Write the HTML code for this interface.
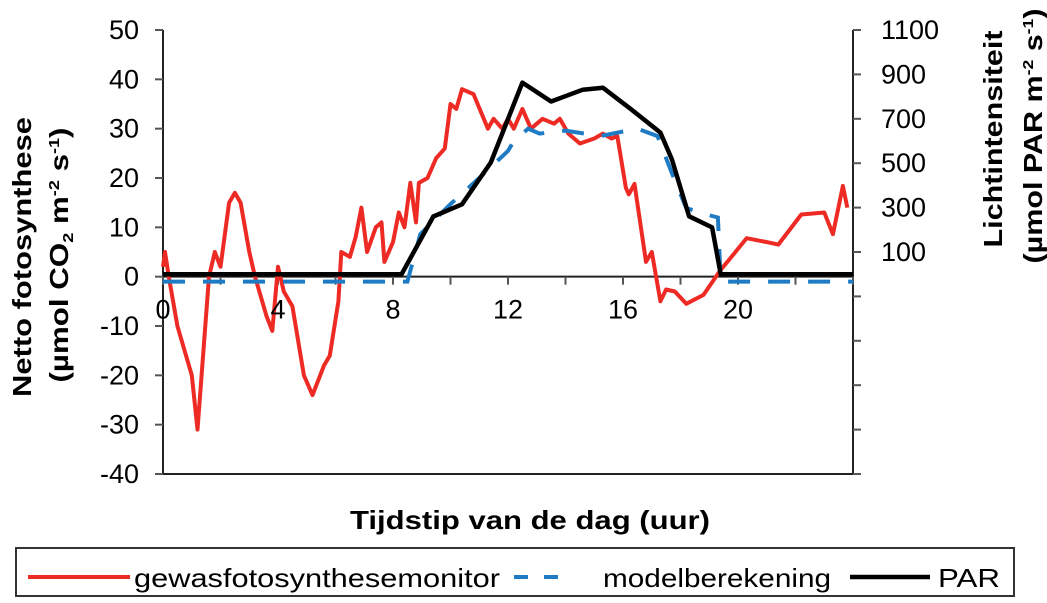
<!DOCTYPE html>
<html><head><meta charset="utf-8"><style>
html,body{margin:0;padding:0;background:#fff;}
svg{display:block;font-family:"Liberation Sans",Arial,sans-serif;}
</style></head><body>
<svg id="chart" width="1047" height="603" viewBox="0 0 1047 603" xmlns="http://www.w3.org/2000/svg">
<rect width="1047" height="603" fill="#fff"/>
<g id="grid"></g>
<g id="series"></g>
<g id="labels"></g>
<text transform="translate(31,257) rotate(-90)" text-anchor="middle" font-size="26" font-weight="bold" textLength="280" lengthAdjust="spacingAndGlyphs">Netto fotosynthese</text>
<text transform="translate(68,255) rotate(-90)" text-anchor="middle" font-size="26" font-weight="bold" textLength="255" lengthAdjust="spacingAndGlyphs">(µmol CO<tspan font-size="15" dy="5">2</tspan><tspan dy="-5"> m</tspan><tspan font-size="15" dy="-9">-2</tspan><tspan dy="9"> s</tspan><tspan font-size="15" dy="-9">-1</tspan><tspan dy="9">)</tspan></text>
<text transform="translate(1002,139) rotate(-90)" text-anchor="middle" font-size="26" font-weight="bold" textLength="217" lengthAdjust="spacingAndGlyphs">Lichtintensiteit</text>
<text transform="translate(1042,136) rotate(-90)" text-anchor="middle" font-size="26" font-weight="bold" textLength="255" lengthAdjust="spacingAndGlyphs">(µmol PAR m<tspan font-size="15" dy="-9">-2</tspan><tspan dy="9"> s</tspan><tspan font-size="15" dy="-9">-1</tspan><tspan dy="9">)</tspan></text>
<text x="350" y="529" font-size="26" font-weight="bold" textLength="360" lengthAdjust="spacingAndGlyphs">Tijdstip van de dag (uur)</text>
<g>
<rect x="16" y="548" width="998" height="48" fill="#fff" stroke="#333" stroke-width="2"/>
<line x1="28" y1="577" x2="130" y2="577" stroke="#ee2a24" stroke-width="4"/>
<text x="134" y="587" font-size="26" textLength="366" lengthAdjust="spacingAndGlyphs">gewasfotosynthesemonitor</text>
<line x1="514" y1="577" x2="570" y2="577" stroke="#1f7cc4" stroke-width="4" stroke-dasharray="14,16"/>
<text x="603" y="587" font-size="26" textLength="228" lengthAdjust="spacingAndGlyphs">modelberekening</text>
<line x1="850" y1="577" x2="930" y2="577" stroke="#000" stroke-width="4.5"/>
<text x="938" y="587" font-size="26" textLength="62" lengthAdjust="spacingAndGlyphs">PAR</text>
</g>
</svg>
<script>
const hours = [0,0.07,0.2,0.5,1.0,1.2,1.6,1.8,2.0,2.3,2.5,2.7,3.0,3.2,3.6,3.8,4.0,4.2,4.5,4.9,5.2,5.6,5.8,6.1,6.2,6.5,6.7,6.9,7.1,7.4,7.6,7.7,8.0,8.2,8.4,8.6,8.8,8.9,9.2,9.5,9.8,10.0,10.2,10.4,10.8,11.3,11.5,11.8,12.0,12.2,12.5,12.8,13.2,13.6,13.8,14.1,14.5,15.0,15.3,15.6,15.8,16.1,16.2,16.4,16.8,17.0,17.3,17.5,17.8,18.2,18.8,19.4,19.7,20.3,21.0,21.4,22.2,23.0,23.3,23.65,23.8];
const monitor = [2,5,0,-10,-20,-31,0,5,2,15,17,15,5,0,-8,-11,2,-3,-6,-20,-24,-18,-16,-5,5,4,8,14,5,10,11,3,7,13,10,19,11,19,20,24,26,35,34,38,37,30,32,30,32,30,34,30,32,31,32,29,27,28,29,28,28.5,18,16.7,18.8,3,5,-5,-2.6,-3,-5.5,-3.7,1.4,3.5,7.8,7,6.5,12.6,13,8.6,18.4,14];
const modelHours = [0,8.5,8.95,10.0,11.0,12.0,12.2,12.7,13.1,14.0,15.2,16.5,17.2,17.7,18.2,18.9,19.3,19.4,24];
const model = [-1,-1,8.6,14.7,20,25.5,27.5,30,29,29.6,28.5,30,28.5,21,13.9,12.6,12,-1,-1];
const parHours = [0,8.3,9.4,10.4,11.4,12.5,13.5,14.6,15.3,16.3,17.3,17.7,18.3,19.1,19.4,24];
const par = [0,0,260,315,503,863,778,831,840,741,638,517,261,211,0,0];
const yTicks = [50,40,30,20,10,0,-10,-20,-30,-40];
const y2Ticks = [1100,900,700,500,300,100];
const xTickLabels = [0,4,8,12,16,20];

const X0=163, X1=853, Y0=474, Y1=30;
const sx = h => X0 + h/24*(X1-X0);
const sy = v => Y0 - (v+40)/90*(Y0-Y1);
const sy2 = v => Y0 - (v+900)/2000*(Y0-Y1);
const NS="http://www.w3.org/2000/svg";
const grid=document.getElementById('grid'), ser=document.getElementById('series'), lab=document.getElementById('labels');
function mk(tag, attrs, parent){const e=document.createElementNS(NS,tag);for(const k in attrs)e.setAttribute(k,attrs[k]);parent.appendChild(e);return e;}

let ax=mk('line',{x1:X0,y1:Y1,x2:X0,y2:Y0,stroke:'#222','stroke-width':2},grid);


let ax2=mk('line',{x1:X1,y1:Y1,x2:X1,y2:Y0,stroke:'#222','stroke-width':2},grid);


let ax3=mk('line',{x1:X0,y1:Y0,x2:X1,y2:Y0,stroke:'#222','stroke-width':2},grid);


let ax4=mk('line',{x1:X0,y1:sy(0),x2:X1,y2:sy(0),stroke:'#222','stroke-width':2},grid);



yTicks.forEach(v=>{
  mk('line',{x1:X0-8,y1:sy(v),x2:X0,y2:sy(v),stroke:'#555','stroke-width':2},grid);
  const t=mk('text',{x:139,y:sy(v)+9,'text-anchor':'end','font-size':27},lab);
  t.textContent=v;
  
  
});
for(let v=-900;v<=1100;v+=200){
  mk('line',{x1:X1,y1:sy2(v),x2:X1+8,y2:sy2(v),stroke:'#555','stroke-width':2},grid);
}
y2Ticks.forEach(v=>{
  const t=mk('text',{x:881,y:sy2(v)+9,'font-size':27},lab);
  t.textContent=v;
  
  
});
for(let h=0;h<=24;h+=2){
  mk('line',{x1:sx(h),y1:sy(0),x2:sx(h),y2:sy(0)+8,stroke:'#555','stroke-width':2},grid);
}
xTickLabels.forEach(h=>{
  const t=mk('text',{x:sx(h),y:sy(0)+42,'text-anchor':'middle','font-size':27},lab);
  t.textContent=h;
  
  
});

function pts(xs,ys,f){return xs.map((h,i)=>sx(h).toFixed(1)+','+f(ys[i]).toFixed(1)).join(' ');}
const red=mk('polyline',{points:pts(hours,monitor,sy),fill:'none',stroke:'#ee2a24','stroke-width':4,'stroke-linejoin':'round'},ser);


const blue=mk('polyline',{points:pts(modelHours,model,sy),fill:'none',stroke:'#1f7cc4','stroke-width':4,'stroke-dasharray':'22,18'},ser);


const blk=mk('polyline',{points:pts(parHours,par,sy2),fill:'none',stroke:'#000','stroke-width':4.5,'stroke-linejoin':'round'},ser);


</script>
</body></html>
